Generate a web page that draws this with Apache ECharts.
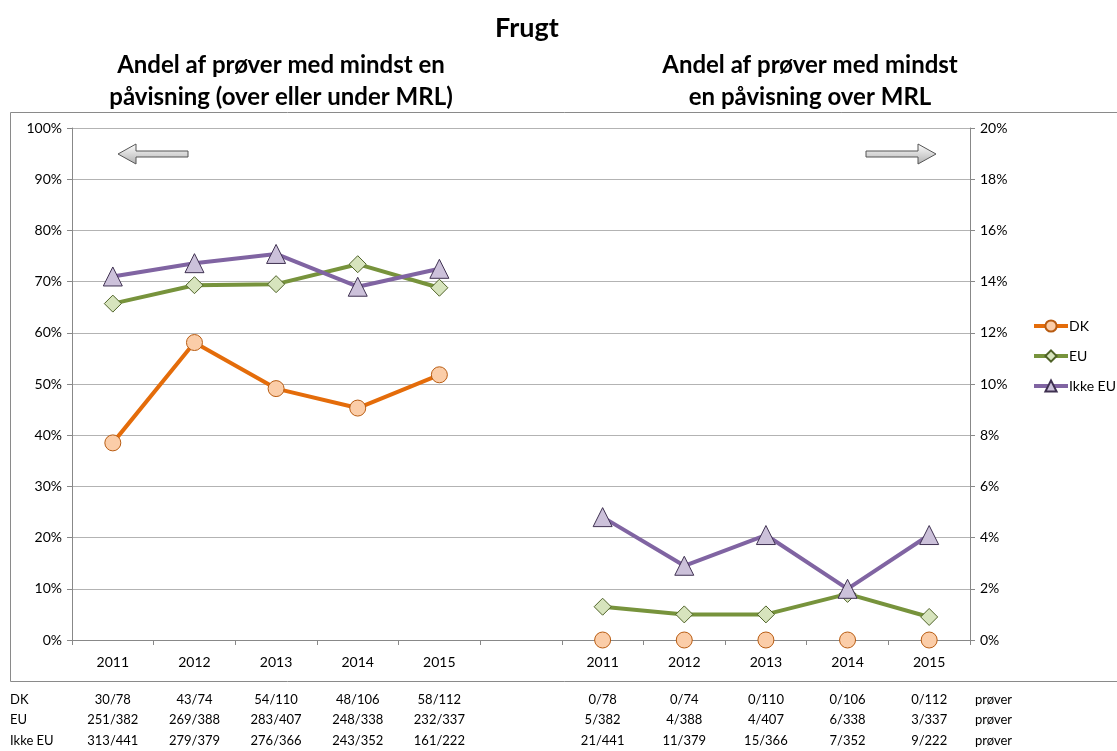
<!DOCTYPE html>
<html>
<head>
<meta charset="utf-8">
<script src="https://cdn.jsdelivr.net/npm/echarts@6/dist/echarts.min.js"></script>
<style>
  html, body { margin: 0; padding: 0; background: #fff; }
  #chart { width: 1117px; height: 751px; }
</style>
</head>
<body>
<div id="chart"></div>
<script>
// år på x-aksen (to blokke: alle påvisninger / over MRL)
var years = ['2011', '2012', '2013', '2014', '2015']

// andel med mindst en påvisning (venstre akse, %)
var dkAll = [38.5, 58.1, 49.1, 45.3, 51.8]
var euAll = [65.7, 69.3, 69.5, 73.4, 68.8]
var ikkeEuAll = [71.0, 73.6, 75.4, 69.0, 72.5]

// andel over MRL (højre akse, %)
var dkMrl = [0, 0, 0, 0, 0]
var euMrl = [1.3, 1.0, 1.0, 1.8, 0.9]
var ikkeEuMrl = [4.8, 2.9, 4.1, 2.0, 4.1]

// antal prøver under grafen
var dkCountAll = ['30/78', '43/74', '54/110', '48/106', '58/112']
var euCountAll = ['251/382', '269/388', '283/407', '248/338', '232/337']
var ikkeEuCountAll = ['313/441', '279/379', '276/366', '243/352', '161/222']
var dkCountMrl = ['0/78', '0/74', '0/110', '0/106', '0/112']
var euCountMrl = ['5/382', '4/388', '4/407', '6/338', '3/337']
var ikkeEuCountMrl = ['21/441', '11/379', '15/366', '7/352', '9/222']

var leftTicks = { min: 0, max: 100, interval: 10 }
var rightTicks = { min: 0, max: 20, interval: 2 }

var font = 'Lato, "Open Sans", sans-serif'
var categories = years.concat([''], years)
var gap = [null, null, null, null, null, null]

// venstre blok: værdier + tomme pladser, højre blok: tomme pladser + værdier
function leftData(arr) { return arr.concat(gap) }
function rightData(arr) { return gap.concat(arr) }

var styles = {
  DK: { line: '#E46C0A', fill: '#FBCDA8', border: '#B85C12', symbol: 'circle', size: 16 },
  EU: { line: '#77933C', fill: '#D7E4BD', border: '#4F6228', symbol: 'diamond', size: 17 },
  'Ikke EU': { line: '#8064A2', fill: '#CCC1DA', border: '#3F3151', symbol: 'triangle', size: 19 }
}

function makeSeries(name, data, axisIndex, hideLine) {
  var s = styles[name]
  return {
    name: name,
    type: 'line',
    yAxisIndex: axisIndex,
    data: data,
    symbol: s.symbol,
    symbolSize: s.size,
    showAllSymbol: true,
    connectNulls: false,
    // DK over MRL er kun markører uden linje
    lineStyle: { color: s.line, width: hideLine ? 0 : 4 },
    itemStyle: { color: s.fill, borderColor: s.border, borderWidth: 1, opacity: 1 },
    emphasis: { disabled: true }
  }
}

var myChart = echarts.init(document.getElementById('chart'))

myChart.setOption({
  animation: false,
  textStyle: { fontFamily: font, color: '#000' },
  grid: { left: 72, right: 147, top: 128, bottom: 111 },
  legend: {
    orient: 'vertical',
    left: 1027,
    top: 314,
    itemWidth: 34,
    itemHeight: 14,
    itemGap: 16,
    data: [
      { name: 'DK', lineStyle: { color: styles.DK.line, width: 4, opacity: 1 } },
      { name: 'EU', lineStyle: { color: styles.EU.line, width: 4 } },
      { name: 'Ikke EU', lineStyle: { color: styles['Ikke EU'].line, width: 4 } }
    ],
    textStyle: { fontFamily: font, fontSize: 14, color: '#000', padding: [0, 0, 0, -4] }
  },
  xAxis: {
    type: 'category',
    data: categories,
    boundaryGap: true,
    axisLine: { lineStyle: { color: '#888', width: 1 } },
    axisTick: { show: true, length: 5, lineStyle: { color: '#888' } },
    axisLabel: { color: '#000', fontSize: 14, margin: 15, fontFamily: font }
  },
  yAxis: [
    {
      type: 'value',
      min: leftTicks.min,
      max: leftTicks.max,
      interval: leftTicks.interval,
      axisLine: { show: true, lineStyle: { color: '#888' } },
      axisTick: { show: true, length: 5, lineStyle: { color: '#888' } },
      splitLine: { lineStyle: { color: '#B3B3B3', width: 1 } },
      axisLabel: { formatter: '{value}%', color: '#000', fontSize: 14, margin: 10, fontFamily: font }
    },
    {
      type: 'value',
      position: 'right',
      min: rightTicks.min,
      max: rightTicks.max,
      interval: rightTicks.interval,
      axisLine: { show: true, lineStyle: { color: '#888' } },
      axisTick: { show: true, length: 5, lineStyle: { color: '#888' } },
      splitLine: { show: false },
      axisLabel: { formatter: '{value}%', color: '#000', fontSize: 14, margin: 10, fontFamily: font }
    }
  ],
  series: [
    makeSeries('DK', leftData(dkAll), 0, false),
    makeSeries('EU', leftData(euAll), 0, false),
    makeSeries('Ikke EU', leftData(ikkeEuAll), 0, false),
    makeSeries('DK', rightData(dkMrl), 1, true),
    makeSeries('EU', rightData(euMrl), 1, false),
    makeSeries('Ikke EU', rightData(ikkeEuMrl), 1, false)
  ]
})

// titler, pile, ramme og tabel med prøveantal
var arrowFill = new echarts.graphic.LinearGradient(0, 0, 0, 1, [
  { offset: 0, color: '#ffffff' },
  { offset: 1, color: '#b0b0b0' }
])
var elements = [
  { type: 'rect', shape: { x: 10.5, y: 112.5, width: 1200, height: 569 }, style: { fill: 'none', stroke: '#8a8a8a', lineWidth: 1 }, silent: true },
  { type: 'text', x: 527, y: 28, style: { text: 'Frugt', font: 'bold 27px ' + font, fill: '#000', textAlign: 'center', textVerticalAlign: 'middle' } },
  { type: 'text', x: 281, y: 65, style: { text: 'Andel af prøver med mindst en', font: 'bold 24px ' + font, fill: '#000', textAlign: 'center', textVerticalAlign: 'middle' } },
  { type: 'text', x: 281, y: 97, style: { text: 'påvisning (over eller under MRL)', font: 'bold 24px ' + font, fill: '#000', textAlign: 'center', textVerticalAlign: 'middle' } },
  { type: 'text', x: 810, y: 65, style: { text: 'Andel af prøver med mindst', font: 'bold 24px ' + font, fill: '#000', textAlign: 'center', textVerticalAlign: 'middle' } },
  { type: 'text', x: 810, y: 97, style: { text: 'en påvisning over MRL', font: 'bold 24px ' + font, fill: '#000', textAlign: 'center', textVerticalAlign: 'middle' } },
  { type: 'polygon', shape: { points: [[118, 154], [136, 144], [136, 151], [188, 151], [188, 157], [136, 157], [136, 164]] }, style: { fill: arrowFill, stroke: '#555', lineWidth: 1 } },
  { type: 'polygon', shape: { points: [[936, 154], [918, 144], [918, 151], [866, 151], [866, 157], [918, 157], [918, 164]] }, style: { fill: arrowFill, stroke: '#555', lineWidth: 1 } }
]

var rows = [
  { label: 'DK', all: dkCountAll, mrl: dkCountMrl, y: 700 },
  { label: 'EU', all: euCountAll, mrl: euCountMrl, y: 720 },
  { label: 'Ikke EU', all: ikkeEuCountAll, mrl: ikkeEuCountMrl, y: 741 }
]
rows.forEach(function (row) {
  elements.push({ type: 'text', x: 10, y: row.y, style: { text: row.label, font: '13px ' + font, fill: '#000', textVerticalAlign: 'middle' } })
  row.all.forEach(function (t, i) {
    var px = myChart.convertToPixel({ xAxisIndex: 0 }, i)
    elements.push({ type: 'text', x: px, y: row.y, style: { text: t, font: '13px ' + font, fill: '#000', textAlign: 'center', textVerticalAlign: 'middle' } })
  })
  row.mrl.forEach(function (t, i) {
    var px = myChart.convertToPixel({ xAxisIndex: 0 }, i + years.length + 1)
    elements.push({ type: 'text', x: px, y: row.y, style: { text: t, font: '13px ' + font, fill: '#000', textAlign: 'center', textVerticalAlign: 'middle' } })
  })
  elements.push({ type: 'text', x: 975, y: row.y, style: { text: 'prøver', font: '13px ' + font, fill: '#000', textVerticalAlign: 'middle' } })
})

myChart.setOption({ graphic: { elements: elements } })

window.onresize = function () {
  myChart.resize()
}
</script>
</body>
</html>
